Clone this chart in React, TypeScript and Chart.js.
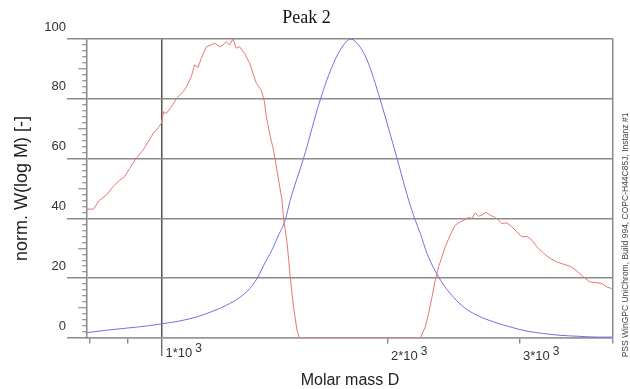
import React, { useEffect, useRef } from "react";
import { Chart, registerables } from "chart.js";

Chart.register(...registerables);

// ---- data ----
const redMass = [
  794, 810, 825, 843, 860, 878, 891, 905, 924, 943,
  958, 973, 988, 998, 1005, 1013, 1029, 1045, 1067, 1078,
  1094, 1105, 1117, 1128, 1146, 1163, 1176, 1194, 1206, 1218,
  1231, 1244, 1256, 1269, 1289, 1309, 1323, 1336, 1357, 1370,
  1378, 1395, 1409, 1416, 1431, 1446, 1453, 1469, 1483, 1498,
  1514, 1526, 2212, 2246, 2269, 2293, 2316, 2340, 2364, 2388,
  2425, 2462, 2500, 2539, 2565, 2592, 2619, 2645, 2673, 2708,
  2742, 2785, 2813, 2843, 2887, 2931, 2977, 3023, 3070, 3118,
  3166, 3231, 3298, 3366, 3435, 3506, 3580, 3653, 3729, 3807,
  3865, 3925, 3986, 4000,
];
const redW = [
  43.1, 43.1, 46.1, 47.8, 50.6, 52.8, 53.9, 56.7, 60.1, 62.8,
  65.6, 68.4, 70.3, 71.8, 75.7, 75.1, 77.3, 80.1, 82.4, 84.0,
  87.4, 91.3, 90.5, 93.5, 97.4, 98.0, 98.6, 97.4, 98.0, 99.1,
  98.0, 100, 96.9, 97.4, 95.2, 91.9, 88.5, 85.2, 82.9, 79.0,
  74.0, 67.3, 62.8, 59.5, 52.8, 46.1, 40.0, 31.6, 20.4, 10.4,
  2.6, 0, 0, 3.7, 8.2, 13.7, 19.3, 23.8, 27.1, 30.5,
  34.4, 37.7, 38.8, 39.6, 40.3, 40.0, 41.8, 40.7, 41.1, 42.0,
  41.1, 40.3, 39.4, 38.3, 38.5, 37.2, 35.5, 33.8, 34.0, 32.7,
  30.5, 28.3, 26.6, 25.4, 24.7, 24.0, 22.4, 20.4, 18.7, 18.5,
  18.2, 17.1, 16.5, 16.5,
];
const blueMass = [
  794, 843, 896, 953, 1003, 1056, 1111, 1170, 1218, 1272,
  1309, 1339, 1357, 1378, 1395, 1427, 1460, 1483, 1545, 1626,
  1694, 1747, 1784, 1821, 1878, 1956, 2059, 2134, 2178, 2212,
  2258, 2340, 2425, 2526, 2633, 2770, 2916, 3070, 3231, 3400,
  3580, 3807, 4000,
];
const blueW = [
  1.8, 2.6, 3.3, 4.0, 4.8, 5.7, 7.0, 9.0, 10.9, 13.7,
  16.5, 19.9, 22.7, 26.0, 28.3, 33.8, 39.4, 46.1, 60.1, 79.6,
  91.9, 98.0, 100, 98.6, 93.0, 79.6, 60.1, 46.1, 39.4, 35.0,
  28.3, 20.4, 14.9, 10.4, 7.6, 5.4, 3.7, 2.3, 1.5, 0.9,
  0.6, 0.3, 0.3,
];

const xMin = 794;
const xMax = 4000;
const xTickValues = [800, 900, 1000, 2000, 3000, 4000];
const xLabelValues = [1000, 2000, 3000];
const xLabelTexts = ["1*10", "2*10", "3*10"];
const xLabelExponent = "3";
const yMajorStep = 20;
const yMinorStep = 2;
const yMin = 0;
const yMax = 100;

const titleText = "Peak 2";
const xTitle = "Molar mass D";
const yTitle = "norm. W(log M) [-]";
const footnote = "PSS WinGPC UniChrom, Build 994, COPC-H44C85J, Instanz #1";

const SANS = '"Liberation Sans", Arial, sans-serif';
const SERIF = '"Liberation Serif", "Times New Roman", serif';

const yTickValues: number[] = [];
for (let v = yMin; v <= yMax; v += yMinorStep) yTickValues.push(v);

const textPlugin = {
  id: "extraText",
  afterDraw(chart: any) {
    const { ctx, chartArea } = chart;
    const xs = chart.scales.x;
    ctx.save();
    ctx.fillStyle = "#333";
    ctx.textBaseline = "middle";
    ctx.textAlign = "left";
    xLabelValues.forEach((v, i) => {
      const px = xs.getPixelForValue(v) + 3.5;
      const py = chartArea.bottom + (v === 1000 ? 15 : 18);
      ctx.font = `13px ${SANS}`;
      const base = xLabelTexts[i];
      ctx.fillText(base, px, py);
      const w = ctx.measureText(base).width;
      ctx.font = `12px ${SANS}`;
      ctx.fillText(xLabelExponent, px + w + 3, py - 4);
    });
    ctx.translate(chartArea.right + 12.5, 235);
    ctx.rotate(-Math.PI / 2);
    ctx.textAlign = "center";
    ctx.font = `8.5px ${SANS}`;
    ctx.fillStyle = "#444";
    ctx.fillText(footnote, 0, 0);
    ctx.restore();
  },
};

export default function App() {
  const ref = useRef<HTMLCanvasElement | null>(null);
  useEffect(() => {
    if (!ref.current) return;
    Chart.defaults.font.family = SANS;
    const chart = new Chart(ref.current, {
      type: "line",
      data: {
        datasets: [
          {
            label: "red",
            data: redMass.map((m, i) => ({ x: m, y: redW[i] })),
            borderColor: "rgb(230,118,118)",
            borderWidth: 1,
            pointRadius: 0,
            tension: 0,
            fill: false,
          },
          {
            label: "blue",
            data: blueMass.map((m, i) => ({ x: m, y: blueW[i] })),
            borderColor: "rgb(112,112,224)",
            borderWidth: 1,
            pointRadius: 0,
            cubicInterpolationMode: "monotone",
            fill: false,
          },
        ],
      },
      options: {
        animation: false,
        responsive: false,
        devicePixelRatio: 1,
        layout: { padding: { left: 0, right: 17, top: 0, bottom: 0 } },
        plugins: {
          legend: { display: false },
          tooltip: { enabled: false },
          title: {
            display: true,
            text: titleText,
            color: "#111",
            font: { family: SERIF, size: 18, weight: "normal", lineHeight: 1.2 },
            padding: { top: 7, bottom: 10.4 },
          },
        },
        scales: {
          x: {
            type: "logarithmic",
            min: xMin,
            max: xMax,
            afterBuildTicks: (s: any) => {
              s.ticks = xTickValues.map((v) => ({ value: v }));
            },
            afterFit: (s: any) => {
              s.height = 51;
            },
            ticks: { callback: () => "", autoSkip: false, maxRotation: 0, minRotation: 0 },
            grid: {
              color: (c: any) => {
                const v = c.tick?.value;
                if (v === 1000) return "#555";
                if (v === 4000) return "#8a8a8a";
                return "rgba(0,0,0,0)";
              },
              lineWidth: 1.5,
              tickLength: 18,
              tickWidth: 1.2,
              tickColor: (c: any) => (c.tick?.value === 1000 ? "#555" : "#777"),
              tickBorderDash: (c: any) => (c.tick?.value === 1000 ? [] : [5, 100]),
            },
            border: { display: true, color: "#999", width: 1.5 },
            title: {
              display: true,
              text: xTitle,
              color: "#222",
              font: { family: SANS, size: 16, lineHeight: 1 },
              padding: { top: 0, bottom: 0 },
            },
          },
          y: {
            min: yMin,
            max: yMax,
            afterBuildTicks: (s: any) => {
              s.ticks = yTickValues.map((v) => ({ value: v }));
            },
            afterFit: (s: any) => {
              s.width = 87;
            },
            ticks: {
              callback: (v: any) => (Number(v) % yMajorStep === 0 ? String(v) : ""),
              autoSkip: false,
              labelOffset: -12,
              padding: 1,
              color: "#333",
              font: { family: SANS, size: 13 },
            },
            grid: {
              color: (c: any) => (c.tick && c.tick.value % yMajorStep === 0 ? "#8a8a8a" : "rgba(0,0,0,0)"),
              lineWidth: 1.5,
              tickLength: 20,
              tickColor: (c: any) => (c.tick && c.tick.value % yMajorStep === 0 ? "#8a8a8a" : "#777"),
              tickWidth: (c: any) => (c.tick && c.tick.value % yMajorStep === 0 ? 1.5 : 1),
              tickBorderDash: (c: any) => {
                const v = c.tick?.value ?? 0;
                if (v % yMajorStep === 0) return [];
                if (v % 10 === 0) return [0, 11.25, 8, 100];
                return [0, 15.25, 4, 100];
              },
            },
            border: { display: true, color: "#888", width: 1.5 },
            title: {
              display: true,
              text: yTitle,
              color: "#222",
              font: { family: SANS, size: 18, lineHeight: 1.2 },
              padding: { top: 11, bottom: 0 },
            },
          },
        },
      },
      plugins: [textPlugin],
    } as any);
    return () => chart.destroy();
  }, []);
  return (
    <canvas
      ref={ref}
      width={630}
      height={389}
      style={{ position: "fixed", left: 0, top: 0, width: 630, height: 389, display: "block" }}
    />
  );
}
